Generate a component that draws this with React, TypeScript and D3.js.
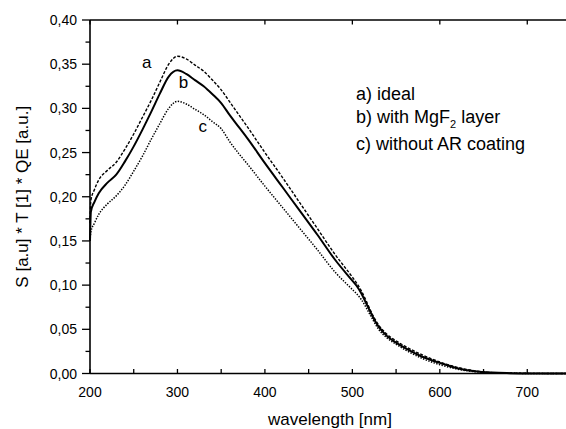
import React, { useEffect, useRef } from 'react'
import * as d3 from 'd3'

// wavelength grid [nm]
const wavelengths = [
  200, 201, 205, 210, 220, 230, 240, 250, 260, 270, 280, 290, 300, 310, 320, 330, 340, 350, 360, 370,
  380, 400, 420, 440, 460, 480, 500, 505, 510, 515, 520, 525, 530, 540, 550, 560, 580, 600, 620, 640,
  660, 680, 700, 750,
]

// a) ideal
const ideal = [
  0.17, 0.196, 0.208, 0.219, 0.23, 0.239, 0.254, 0.271, 0.29, 0.309, 0.33, 0.35, 0.359, 0.356, 0.349,
  0.342, 0.332, 0.321, 0.307, 0.293, 0.279, 0.25, 0.222, 0.193, 0.164, 0.135, 0.109, 0.102, 0.094,
  0.084, 0.073, 0.063, 0.055, 0.044, 0.037, 0.031, 0.021, 0.013, 0.007, 0.003, 0.001, 0.0005, 0.0002, 0,
]

// b) with MgF2 layer
const withMgF2 = [
  0.15, 0.183, 0.194, 0.204, 0.216, 0.225, 0.24, 0.257, 0.276, 0.296, 0.317, 0.336, 0.343, 0.339,
  0.332, 0.325, 0.316, 0.306, 0.292, 0.279, 0.266, 0.238, 0.211, 0.184, 0.157, 0.129, 0.105, 0.099,
  0.091, 0.081, 0.071, 0.061, 0.053, 0.042, 0.035, 0.029, 0.019, 0.012, 0.006, 0.0025, 0.001, 0.0004,
  0.0001, 0,
]

// c) without AR coating
const withoutAR = [
  0.15, 0.16, 0.17, 0.18, 0.192, 0.201, 0.213, 0.229, 0.246, 0.265, 0.283, 0.3, 0.308, 0.305, 0.299,
  0.293, 0.285, 0.277, 0.262, 0.249, 0.237, 0.212, 0.188, 0.164, 0.14, 0.115, 0.095, 0.09, 0.084,
  0.076, 0.067, 0.058, 0.05, 0.04, 0.033, 0.027, 0.017, 0.01, 0.005, 0.002, 0.0008, 0.0003, 0.0001,
  0,
]

const xMajor = [200, 300, 400, 500, 600, 700]
const xMinor = [250, 350, 450, 550, 650]
const yMajor = [0, 0.05, 0.1, 0.15, 0.2, 0.25, 0.3, 0.35, 0.4]
const yMinor = [0.025, 0.075, 0.125, 0.175, 0.225, 0.275, 0.325, 0.375]

const curveLabels = [
  { text: 'a', x: 265, y: 0.352 },
  { text: 'b', x: 307, y: 0.33 },
  { text: 'c', x: 329, y: 0.28 },
]

const font = 'Liberation Sans, Arial, sans-serif'

const App = () => {
  const svgRef = useRef(null)
  useEffect(() => {
    const svg = d3.select(svgRef.current)
    svg.selectAll('*').remove()
    const width = 566
    const height = 429
    const margin = { top: 20, right: -5, bottom: 55.5, left: 90 }

    const x = d3.scaleLinear().domain([200, 750]).range([margin.left, width - margin.right])
    const y = d3.scaleLinear().domain([0, 0.4]).range([height - margin.bottom, margin.top])
    const fmt = (v) => d3.format('.2f')(v).replace('.', ',')

    const g = svg.append('g')

    // curves
    const series = [
      { values: ideal, dash: '3,1.6', w: 1.4 },
      { values: withMgF2, dash: null, w: 2 },
      { values: withoutAR, dash: '1.4,1.4', w: 1.5 },
    ]
    const line = d3
      .line()
      .x((d) => x(d[0]))
      .y((d) => y(d[1]))
      .curve(d3.curveMonotoneX)
    series.forEach((s) => {
      g.append('path')
        .attr('d', line(wavelengths.map((w, i) => [w, s.values[i]])))
        .attr('fill', 'none')
        .attr('stroke', '#000')
        .attr('stroke-width', s.w)
        .attr('stroke-dasharray', s.dash)
    })

    // frame
    const x0 = x(200)
    const x1 = x(750)
    const y0 = y(0)
    const y1 = y(0.4)
    g.append('line').attr('x1', x0).attr('x2', x1).attr('y1', y0).attr('y2', y0)
    g.append('line').attr('x1', x0).attr('x2', x1).attr('y1', y1).attr('y2', y1)
    g.append('line').attr('x1', x0).attr('x2', x0).attr('y1', y0).attr('y2', y1)
    g.selectAll('line').attr('stroke', '#000').attr('stroke-width', 1.6)

    // x ticks (inside)
    xMajor.concat(xMinor).forEach((v) => {
      g.append('line')
        .attr('x1', x(v)).attr('x2', x(v))
        .attr('y1', y0).attr('y2', y0 - 4.5)
        .attr('stroke', '#000').attr('stroke-width', 1.3)
    })
    xMajor.forEach((v) => {
      g.append('line')
        .attr('x1', x(v)).attr('x2', x(v))
        .attr('y1', y1).attr('y2', y1 + 4.5)
        .attr('stroke', '#000').attr('stroke-width', 1.3)
      g.append('text')
        .attr('x', x(v)).attr('y', y0 + 23)
        .attr('text-anchor', 'middle')
        .attr('font-size', 14)
        .text(v)
    })

    // y ticks (outside)
    yMajor.forEach((v) => {
      g.append('line')
        .attr('x1', x0 - 8).attr('x2', x0)
        .attr('y1', y(v)).attr('y2', y(v))
        .attr('stroke', '#000').attr('stroke-width', 1.3)
      g.append('text')
        .attr('x', x0 - 13).attr('y', y(v) + 5)
        .attr('text-anchor', 'end')
        .attr('font-size', 14)
        .text(fmt(v))
    })
    yMinor.forEach((v) => {
      g.append('line')
        .attr('x1', x0 - 4.5).attr('x2', x0)
        .attr('y1', y(v)).attr('y2', y(v))
        .attr('stroke', '#000').attr('stroke-width', 1.3)
    })

    // axis titles
    g.append('text')
      .attr('x', (x0 + 570) / 2).attr('y', 425)
      .attr('text-anchor', 'middle')
      .attr('font-size', 17)
      .text('wavelength [nm]')
    g.append('text')
      .attr('transform', `translate(28, ${(y0 + y1) / 2}) rotate(-90)`)
      .attr('text-anchor', 'middle')
      .attr('font-size', 17)
      .text('S [a.u] * T [1] * QE [a.u.]')

    // curve letters
    curveLabels.forEach((l) => {
      g.append('text')
        .attr('x', x(l.x)).attr('y', y(l.y) + 6)
        .attr('text-anchor', 'middle')
        .attr('font-size', 17)
        .text(l.text)
    })

    // legend
    const lg = g.append('g').attr('font-size', 18)
    lg.append('text').attr('x', 356).attr('y', 100).text('a) ideal')
    const t = lg.append('text').attr('x', 356).attr('y', 123)
    t.append('tspan').text('b) with MgF')
    t.append('tspan').attr('font-size', 11).attr('dy', 5).text('2')
    t.append('tspan').attr('dy', -5).text(' layer')
    lg.append('text').attr('x', 356).attr('y', 150).text('c) without AR coating')

    g.selectAll('text').attr('font-family', font).attr('fill', '#000')
  }, [])

  return (
    <svg
      ref={svgRef}
      width={566}
      height={429}
      style={{ position: 'absolute', left: 0, top: 0, background: '#fff' }}
    ></svg>
  )
}

export default App
